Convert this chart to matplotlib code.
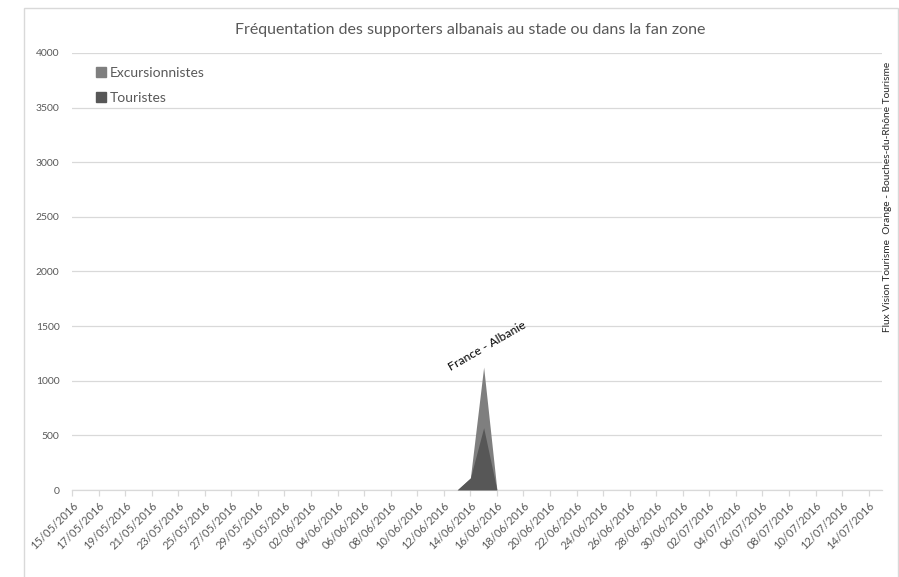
import matplotlib.pyplot as plt
from matplotlib.lines import Line2D
from matplotlib.patches import Rectangle
import pandas as pd

plt.rcParams['font.family'] = ['Lato', 'DejaVu Sans']

_title = "Fréquentation des supporters albanais au stade ou dans la fan zone"
_source = "Flux Vision Tourisme  Orange - Bouches-du-Rhône Tourisme"

# One category per day, from 15/05/2016 to 15/07/2016
dates = pd.date_range("2016-05-15", "2016-07-15", freq="D").strftime("%d/%m/%Y").tolist()

# Daily counts (only the days with visitors, every other day is 0)
excursionnistes = {"14/06/2016": 110, "15/06/2016": 1125}
touristes = {"14/06/2016": 110, "15/06/2016": 570}

match_label = "France - Albanie"
match_date = "15/06/2016"

y_ticks = [0, 500, 1000, 1500, 2000, 2500, 3000, 3500, 4000]

color_exc = "#7f7f7f"
color_tou = "#575757"
grid_color = "#d9d9d9"
text_color = "#595959"


def daily_series(counts):
    return pd.Series(counts).reindex(dates, fill_value=0)


fig = plt.figure(figsize=(8.99, 5.77), dpi=100)
W, H = 899, 577
ax = fig.add_axes([72 / W, (H - 490) / H, (882 - 72) / W, (490 - 53) / H])

x = list(range(len(dates)))
s_exc = daily_series(excursionnistes)
s_tou = daily_series(touristes)

ax.fill_between(x, 0, s_exc.values, color=color_exc, lw=0, zorder=2)
ax.fill_between(x, 0, s_tou.values, color=color_tou, lw=0, zorder=3)

ax.set_xlim(0, len(dates) - 1)
ax.set_ylim(0, 4000)
ax.set_yticks(y_ticks)
ax.set_yticklabels([str(v) for v in y_ticks], color=text_color, fontsize=7.5)
ax.tick_params(axis='y', length=0, pad=9)
ax.grid(axis='y', color=grid_color, lw=0.9, zorder=0)

ax.set_xticks(x[::2])
ax.set_xticklabels(dates[::2], rotation=45, ha='right', rotation_mode='anchor',
                   color=text_color, fontsize=8)
ax.tick_params(axis='x', length=4, color=grid_color, width=0.9, pad=3)

for side in ['top', 'right', 'left']:
    ax.spines[side].set_visible(False)
ax.spines['bottom'].set_color(grid_color)
ax.spines['bottom'].set_linewidth(0.9)

# Match annotation above the peak
i_match = dates.index(match_date)
ax.text(i_match + 0.3, s_exc[match_date] + 190, match_label, rotation=30,
        ha='center', va='center', fontsize=8.8, color='black')

# Legend
handles = [Line2D([], [], ls='none', marker='s', ms=6.5, color=color_exc),
           Line2D([], [], ls='none', marker='s', ms=6.5, color=color_tou)]
ax.legend(handles, ["Excursionnistes", "Touristes"], loc='upper left',
          bbox_to_anchor=(90 / W, (H - 60) / H), bbox_transform=fig.transFigure,
          frameon=False, handlelength=0.6, handletextpad=0.3, labelspacing=0.95,
          borderpad=0, fontsize=10, labelcolor=text_color)

fig.text(470 / W, (H - 30) / H, _title, ha='center', va='center',
         fontsize=11.5, color=text_color)
fig.text(888 / W, (H - 197) / H, _source, rotation=90, ha='center', va='center',
         fontsize=7.3, color='#262626')

# Chart frame
fig.patches.append(Rectangle((24 / W, -0.02), (898 - 24) / W, (H - 8) / H + 0.02,
                             transform=fig.transFigure, fill=False,
                             edgecolor=grid_color, lw=1))

fig.savefig("out.png", dpi=100)
